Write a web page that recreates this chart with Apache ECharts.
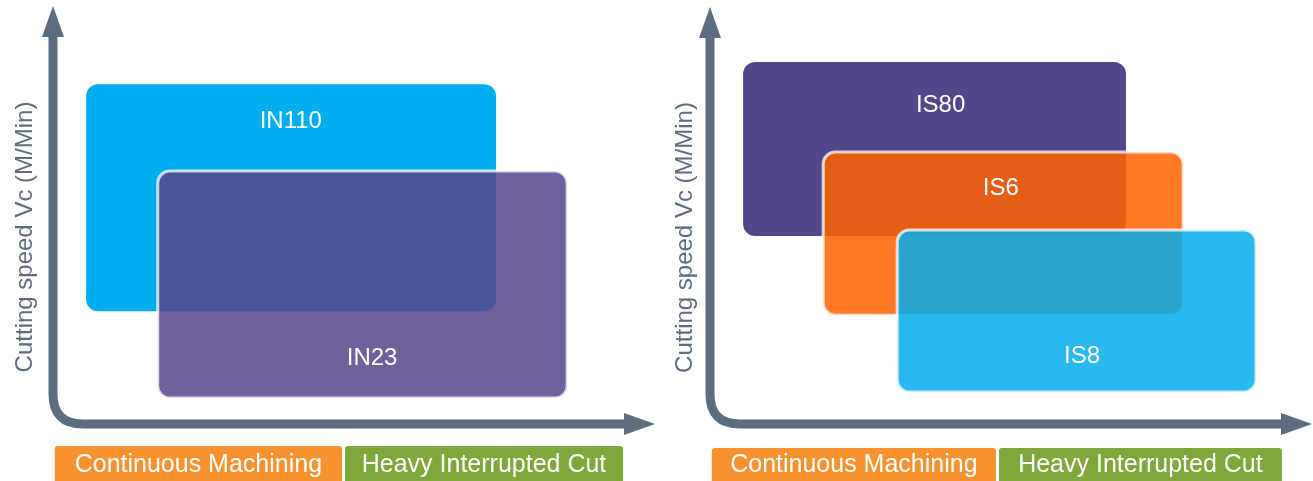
<!DOCTYPE html>
<html>
<head>
<meta charset="utf-8">
<title>Cutting speed grades</title>
<script src="https://cdn.jsdelivr.net/npm/echarts@6/dist/echarts.min.js"></script>
<style>
html, body { margin: 0; padding: 0; background: #fff; }
#chart { width: 1313px; height: 481px; }
</style>
</head>
<body>
<div id="chart"></div>
<script>
// left panel: IN grades (x / y ranges in axis units 0-100)
var leftNames = ['IN110', 'IN23'];
var leftX = [[5.5, 73.6], [17.4, 85.4]];
var leftY = [[27.0, 81.3], [6.2, 60.5]];
var leftLabelAt = [[39.5, 72.5], [53.0, 15.6]];

// right panel: IS grades
var rightNames = ['IS80', 'IS6', 'IS8'];
var rightX = [[5.5, 69.1], [18.8, 78.6], [31.1, 90.7]];
var rightY = [[45.1, 86.8], [26.1, 65.2], [7.7, 46.5]];
var rightLabelAt = [[38.3, 76.3], [48.3, 56.4], [61.8, 16.1]];

// machining condition bands under the x axis
var bandNames = ['Continuous Machining', 'Heavy Interrupted Cut'];
var leftBandX = [[0.3, 48.0], [48.5, 94.7]];
var rightBandX = [[0.3, 47.5], [48.0, 95.0]];

var yTitle = 'Cutting speed Vc (M/Min)';

var FONT = 'Liberation Sans';
var axisColor = '#5d6d7e';
var bandColors = ['#f7922f', '#7ea83a'];

function boxData(names, xs, ys, at) {
    return names.map(function (n, i) {
        return [xs[i][0], xs[i][1], ys[i][0], ys[i][1], at[i][0], at[i][1], n];
    });
}

function bandData(xs) {
    return bandNames.map(function (n, i) {
        return [xs[i][0], xs[i][1], n];
    });
}

function boxRender(fills, strokes) {
    return function (params, api) {
        var i = params.dataIndex;
        var tl = api.coord([api.value(0), api.value(3)]);
        var br = api.coord([api.value(1), api.value(2)]);
        var lp = api.coord([api.value(4), api.value(5)]);
        return {
            type: 'group',
            children: [{
                type: 'rect',
                shape: { x: tl[0], y: tl[1], width: br[0] - tl[0], height: br[1] - tl[1], r: 12 },
                style: {
                    fill: fills[i],
                    stroke: strokes[i] ? 'rgba(255,255,255,0.75)' : null,
                    lineWidth: strokes[i] ? 3 : 0
                }
            }, {
                type: 'text',
                x: lp[0],
                y: lp[1],
                style: {
                    text: api.value(6),
                    fill: '#fff',
                    fontSize: 24,
                    fontFamily: FONT,
                    align: 'center',
                    verticalAlign: 'middle'
                }
            }]
        };
    };
}

function axisRender(params, api) {
    var o = api.coord([0, 0]);
    var xe = api.coord([100, 0]);
    var ye = api.coord([0, 100]);
    var r = 30, head = 30, hw = 11;
    var d = 'M' + o[0] + ' ' + (ye[1] + head) +
        'L' + o[0] + ' ' + (o[1] - r) +
        'Q' + o[0] + ' ' + o[1] + ' ' + (o[0] + r) + ' ' + o[1] +
        'L' + (xe[0] - head) + ' ' + o[1];
    return {
        type: 'group',
        children: [{
            type: 'path',
            shape: { pathData: d },
            style: { fill: 'none', stroke: axisColor, lineWidth: 9 }
        }, {
            type: 'polygon',
            shape: { points: [[o[0], ye[1]], [o[0] - hw, ye[1] + head + 1], [o[0] + hw, ye[1] + head + 1]] },
            style: { fill: axisColor }
        }, {
            type: 'polygon',
            shape: { points: [[xe[0], o[1]], [xe[0] - head - 1, o[1] - hw], [xe[0] - head - 1, o[1] + hw]] },
            style: { fill: axisColor }
        }]
    };
}

function bandRender(top, h) {
    return function (params, api) {
        var i = params.dataIndex;
        var a = api.coord([api.value(0), 0]);
        var b = api.coord([api.value(1), 0]);
        return {
            type: 'group',
            children: [{
                type: 'rect',
                shape: { x: a[0], y: a[1] + top, width: b[0] - a[0], height: h, r: 3 },
                style: { fill: bandColors[i] }
            }, {
                type: 'text',
                x: (a[0] + b[0]) / 2,
                y: a[1] + 41,
                style: {
                    text: api.value(2),
                    fill: '#fff',
                    fontSize: 25,
                    fontFamily: FONT,
                    align: 'center',
                    verticalAlign: 'middle'
                }
            }]
        };
    };
}

function valAxis(idx, name, gap) {
    return {
        type: 'value',
        gridIndex: idx,
        min: 0,
        max: 100,
        name: name,
        nameLocation: 'middle',
        nameGap: gap,
        nameRotate: 90,
        nameTextStyle: { color: axisColor, fontSize: 24, fontFamily: FONT, padding: [0, 44, 0, 0] },
        axisLine: { show: false },
        axisTick: { show: false },
        axisLabel: { show: false },
        splitLine: { show: false }
    };
}

function plainX(idx) {
    return {
        type: 'value', gridIndex: idx, min: 0, max: 100,
        axisLine: { show: false }, axisTick: { show: false },
        axisLabel: { show: false }, splitLine: { show: false }
    };
}

var chart = echarts.init(document.getElementById('chart'));

var option = {
    backgroundColor: '#fff',
    animation: false,
    grid: [
        { left: 53, top: 6, width: 602, height: 418 },
        { left: 710, top: 7, width: 602, height: 417 }
    ],
    xAxis: [plainX(0), plainX(1)],
    yAxis: [valAxis(0, yTitle, 16), valAxis(1, yTitle, 13)],
    series: [
        {
            type: 'custom', xAxisIndex: 0, yAxisIndex: 0, clip: false,
            renderItem: axisRender, data: [[0, 0]], silent: true
        },
        {
            type: 'custom', xAxisIndex: 1, yAxisIndex: 1, clip: false,
            renderItem: axisRender, data: [[0, 0]], silent: true
        },
        {
            type: 'custom', xAxisIndex: 0, yAxisIndex: 0, clip: false,
            renderItem: boxRender(['#00aeef', 'rgba(86,69,138,0.85)'], [false, true]),
            data: boxData(leftNames, leftX, leftY, leftLabelAt)
        },
        {
            type: 'custom', xAxisIndex: 1, yAxisIndex: 1, clip: false,
            renderItem: boxRender(['#54468a', 'rgba(255,99,0,0.85)', 'rgba(3,173,235,0.85)'], [false, true, true]),
            data: boxData(rightNames, rightX, rightY, rightLabelAt)
        },
        {
            type: 'custom', xAxisIndex: 0, yAxisIndex: 0, clip: false,
            renderItem: bandRender(22, 40), data: bandData(leftBandX)
        },
        {
            type: 'custom', xAxisIndex: 1, yAxisIndex: 1, clip: false,
            renderItem: bandRender(24, 40), data: bandData(rightBandX)
        }
    ]
};

chart.setOption(option);
</script>
</body>
</html>
